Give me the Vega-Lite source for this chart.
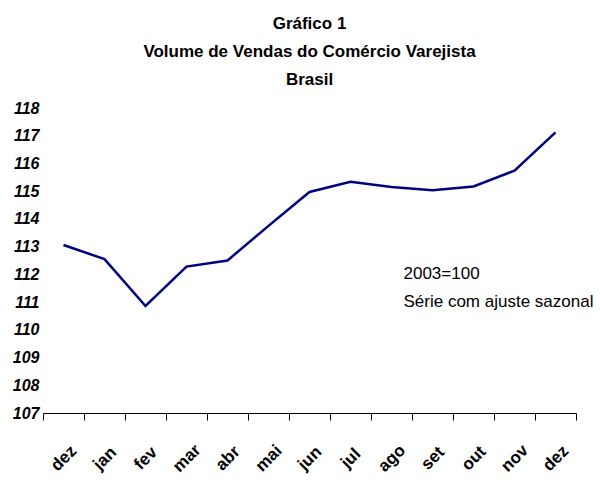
{
  "$schema": "https://vega.github.io/schema/vega-lite/v6.json",
  "width": 533,
  "height": 305,
  "autosize": "none",
  "padding": {"left": 43, "top": 108, "right": 24, "bottom": 72},
  "background": "white",
  "title": {
    "text": ["Gráfico 1", "Volume de Vendas do Comércio Varejista", "Brasil"],
    "font": "Liberation Sans",
    "fontSize": 17,
    "fontWeight": "bold",
    "lineHeight": 28,
    "anchor": "middle",
    "color": "black",
    "offset": 11
  },
  "config": {"view": {"stroke": null}},
  "datasets": {
    "serie": [
      {"mes": "dez/03", "indice": 113.06},
      {"mes": "jan/04", "indice": 112.55},
      {"mes": "fev/04", "indice": 110.86},
      {"mes": "mar/04", "indice": 112.28},
      {"mes": "abr/04", "indice": 112.50},
      {"mes": "mai/04", "indice": 113.75},
      {"mes": "jun/04", "indice": 114.97},
      {"mes": "jul/04", "indice": 115.34},
      {"mes": "ago/04", "indice": 115.15},
      {"mes": "set/04", "indice": 115.03},
      {"mes": "out/04", "indice": 115.17},
      {"mes": "nov/04", "indice": 115.74},
      {"mes": "dez/04", "indice": 117.12}
    ],
    "nota": [
      {"mes": "ago/04", "indice": 112.0, "texto": "2003=100"},
      {"mes": "ago/04", "indice": 111.0, "texto": "Série com ajuste sazonal"}
    ]
  },
  "encoding": {
    "x": {
      "field": "mes",
      "type": "ordinal",
      "sort": null,
      "scale": {
        "type": "band",
        "paddingInner": 0,
        "paddingOuter": 0,
        "domain": ["dez/03", "jan/04", "fev/04", "mar/04", "abr/04", "mai/04", "jun/04", "jul/04", "ago/04", "set/04", "out/04", "nov/04", "dez/04"]
      },
      "axis": {
        "title": null,
        "tickBand": "extent",
        "tickSize": 7,
        "tickColor": "black",
        "domainColor": "black",
        "labelExpr": "substring(datum.label, 0, 3)",
        "labelAngle": -45,
        "labelAlign": "center",
        "labelBaseline": "middle",
        "labelPadding": 38,
        "labelOverlap": false,
        "labelFont": "Liberation Sans",
        "labelFontWeight": "bold",
        "labelFontSize": 17,
        "labelColor": "black"
      }
    },
    "y": {
      "field": "indice",
      "type": "quantitative",
      "scale": {"domain": [107, 118], "zero": false, "nice": false},
      "axis": {
        "title": null,
        "values": [107, 108, 109, 110, 111, 112, 113, 114, 115, 116, 117, 118],
        "ticks": false,
        "domain": false,
        "grid": false,
        "labelOverlap": false,
        "labelFlush": false,
        "labelPadding": 4,
        "labelFont": "Liberation Sans",
        "labelFontWeight": "bold",
        "labelFontStyle": "italic",
        "labelFontSize": 16,
        "labelColor": "black"
      }
    }
  },
  "layer": [
    {
      "data": {"name": "serie"},
      "mark": {"type": "line", "color": "#000080", "strokeWidth": 2.5}
    },
    {
      "data": {"name": "nota"},
      "mark": {"type": "text", "align": "left", "baseline": "middle", "dx": 12, "font": "Liberation Sans", "fontSize": 17, "color": "black"},
      "encoding": {
        "text": {"field": "texto"}
      }
    }
  ]
}
